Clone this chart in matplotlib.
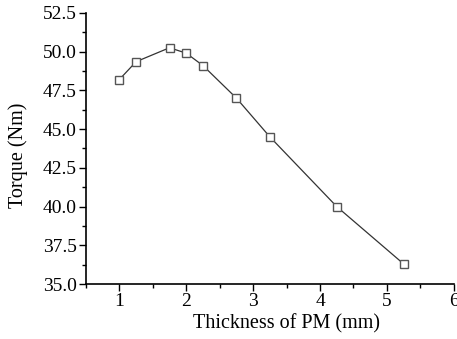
import matplotlib.pyplot as plt
from matplotlib.ticker import MultipleLocator

# thickness of PM (mm) and resulting torque (Nm)
thickness = [1.0, 1.25, 1.75, 2.0, 2.25, 2.75, 3.25, 4.25, 5.25]
torque = [48.2, 49.35, 50.25, 49.9, 49.1, 47.0, 44.5, 40.0, 36.3]

plt.rcParams['font.family'] = ['Liberation Serif', 'DejaVu Serif']

fig = plt.figure(figsize=(4.57, 3.39), dpi=100)
ax = fig.add_axes([0.188, 0.162, 0.805, 0.8])

ax.plot(thickness, torque, color='#333333', lw=0.9, marker='s', ms=5.5,
        mfc='white', mec='#555555', mew=1.0)

ax.set_xlim(0.5, 6)
ax.set_ylim(35, 52.5)
ax.xaxis.set_major_locator(MultipleLocator(1))
ax.xaxis.set_minor_locator(MultipleLocator(0.5))
ax.yaxis.set_major_locator(MultipleLocator(2.5))
ax.yaxis.set_minor_locator(MultipleLocator(1.25))
ax.yaxis.set_major_formatter(plt.FormatStrFormatter('%.1f'))
ax.set_xticks([1, 2, 3, 4, 5, 6])

for s in ['top', 'right']:
    ax.spines[s].set_visible(False)
for s in ['left', 'bottom']:
    ax.spines[s].set_linewidth(1.2)

ax.tick_params(which='major', direction='out', length=5, width=1.0, pad=1.5,
               labelsize=14)
ax.tick_params(which='minor', direction='out', length=3, width=1.0)

ax.set_xlabel('Thickness of PM (mm)', fontsize=14.5)
ax.set_ylabel('Torque (Nm)', fontsize=14.5)
ax.xaxis.set_label_coords(0.546, -0.112)
ax.yaxis.set_label_coords(-0.158, 0.476)

fig.savefig('out.png', dpi=100)
